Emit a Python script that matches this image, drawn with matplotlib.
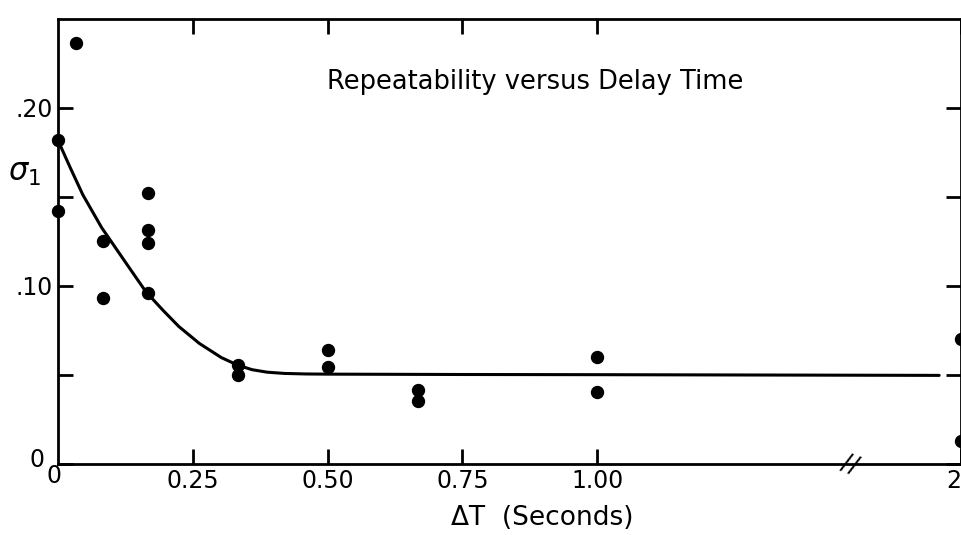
import numpy as np
import matplotlib
matplotlib.use("Agg")
import matplotlib.pyplot as plt
import matplotlib.transforms as mtransforms

# ---- data ----
pt_x = [0.0, 0.0, 0.033, 0.083, 0.083, 0.167, 0.167, 0.167, 0.167,
        0.333, 0.333, 0.5, 0.5, 0.667, 0.667, 1.0, 1.0, 2.0, 2.0]
pt_y = [0.182, 0.142, 0.236, 0.125, 0.093, 0.152, 0.131, 0.124, 0.096,
        0.0553, 0.0497, 0.0635, 0.054, 0.0415, 0.0353, 0.060, 0.040, 0.070, 0.0124]

curve_x = [0.0, 0.023, 0.046, 0.081, 0.123, 0.163, 0.195, 0.224, 0.262, 0.303,
           0.333, 0.36, 0.388, 0.42, 0.46, 0.5, 0.75, 1.0, 1.94]
curve_y = [0.1815, 0.166, 0.151, 0.1325, 0.114, 0.0965, 0.086, 0.077, 0.0675, 0.0595,
           0.0553, 0.0527, 0.0513, 0.0506, 0.0503, 0.0502, 0.0500, 0.0499, 0.0495]

x_ticks = [0.25, 0.5, 0.75, 1.0, 2.0]
x_tick_labels = ["0.25", "0.50", "0.75", "1.00", "2"]
y_ticks = [0.0, 0.05, 0.10, 0.15, 0.20]
y_tick_labels = ["0", "", ".10", "", ".20"]

title = "Repeatability versus Delay Time"
x_label = "ΔT  (Seconds)"
y_label = r"$\sigma_1$"

# ---- broken x scale: 0..1 linear, 1..2 compressed ----
K = 0.675
def fwd(x):
    x = np.asarray(x, dtype=float)
    return np.where(x <= 1, x, 1 + (x - 1) * K)
def inv(y):
    y = np.asarray(y, dtype=float)
    return np.where(y <= 1, y, 1 + (y - 1) / K)

plt.rcParams['font.family'] = ['DejaVu Sans']
fig = plt.figure(figsize=(9.62, 5.35), dpi=100)
W, H = 962, 535
left, right, top, bottom = 58, 961, 18.5, 463.5
ax = fig.add_axes([left / W, 1 - bottom / H, (right - left) / W, (bottom - top) / H])
ax.set_xscale('function', functions=(fwd, inv))
ax.set_xlim(0, 2)
ax.set_ylim(0, 0.25)

ax.plot(curve_x, curve_y, color='black', lw=2.2, solid_capstyle='round',
        solid_joinstyle='round', clip_on=False)
ax.plot(pt_x, pt_y, 'o', color='black', ms=8.6, clip_on=False, zorder=5)

for s in ax.spines.values():
    s.set_linewidth(2.0)

ax.set_xticks(x_ticks)
ax.set_xticklabels(x_tick_labels)
ax.set_yticks(y_ticks)
ax.set_yticklabels(y_tick_labels)
ax.tick_params(axis='both', direction='in', length=11, width=2.0,
               labelsize=17, top=True, right=True)
ax.tick_params(axis='x', pad=4)
ax.tick_params(axis='y', pad=4)
ax.tick_params(axis='x', which='minor', bottom=False, top=False)
ax.get_xticklabels()[-1].set_horizontalalignment('right')
lab0 = ax.get_yticklabels()[0]
lab0.set_transform(lab0.get_transform() +
                   mtransforms.ScaledTranslation(-8 / 100, 6 / 100, fig.dpi_scale_trans))

# origin "0" under the x-axis
ax.annotate("0", (0.0, 0.0), xytext=(-3, -9), textcoords='offset points',
            ha='center', va='center', fontsize=17, annotation_clip=False)
# axis break mark
ax.text(1.695, 0.0, "//", ha='center', va='center', fontsize=18, rotation=-20,
        clip_on=False)

ax.text(0.529, 0.857, title, transform=ax.transAxes, ha='center', va='center', fontsize=18.5)
fig.text(542 / W, 1 - 518 / H, x_label, ha='center', va='center', fontsize=19)
fig.text(24 / W, 1 - 174 / H, y_label, ha='center', va='center', fontsize=22)

fig.savefig("out.png", dpi=100, facecolor='white')
